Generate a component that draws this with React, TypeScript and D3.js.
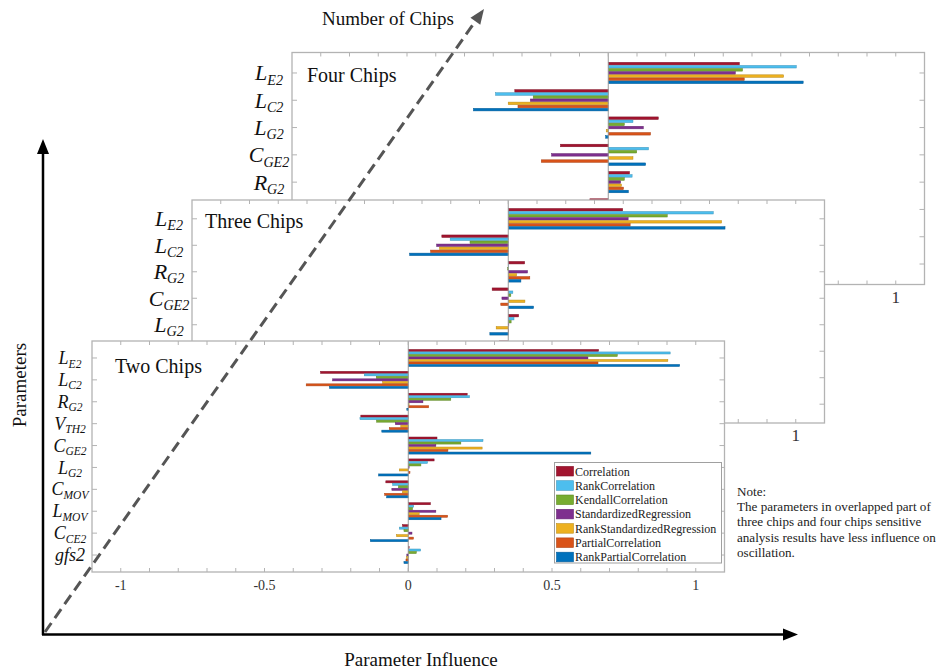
import React from 'react';
import * as d3 from 'd3';

const methods = [
  'Correlation',
  'RankCorrelation',
  'KendallCorrelation',
  'StandardizedRegression',
  'RankStandardizedRegression',
  'PartialCorrelation',
  'RankPartialCorrelation',
];
const methodColors = ['#A2142F', '#4DBEEE', '#77AC30', '#7E2F8E', '#EDB120', '#D95319', '#0072BD'];

// rows = parameters, columns = methods (same order as above)
const fourChipsParams = ['L_E2', 'L_C2', 'L_G2', 'C_GE2', 'R_G2', 'C_MOV', 'V_TH2', 'L_MOV'];
const fourChipsValues = [
  [0.456, 0.654, 0.467, 0.442, 0.61, 0.473, 0.678],
  [-0.325, -0.392, -0.261, -0.271, -0.348, -0.314, -0.469],
  [0.174, 0.086, 0.056, 0.122, -0.007, 0.147, -0.009],
  [-0.166, 0.14, 0.099, -0.197, 0.086, -0.233, 0.13],
  [0.074, 0.083, 0.056, 0.043, 0.046, 0.053, 0.07],
  [-0.064, -0.04, -0.03, -0.05, -0.02, -0.06, -0.05],
  [-0.03, -0.02, -0.01, -0.02, 0.01, -0.03, 0.02],
  [0.02, 0.01, 0.01, 0.03, 0.02, 0.03, 0.02],
];

const threeChipsParams = ['L_E2', 'L_C2', 'R_G2', 'C_GE2', 'L_G2', 'C_MOV', 'V_TH2', 'L_MOV'];
const threeChipsValues = [
  [0.398, 0.713, 0.553, 0.417, 0.742, 0.424, 0.754],
  [-0.231, -0.202, -0.133, -0.249, -0.239, -0.27, -0.343],
  [0.057, 0.001, -0.002, 0.067, 0.029, 0.075, 0.044],
  [-0.056, 0.016, 0.009, -0.022, 0.058, -0.026, 0.088],
  [0.036, 0.02, 0.01, 0.002, -0.042, 0.001, -0.064],
  [-0.03, -0.02, -0.01, -0.02, -0.01, -0.03, -0.02],
  [-0.04, -0.03, -0.02, -0.01, -0.01, -0.02, -0.03],
  [0.02, 0.01, 0.01, 0.02, 0.01, 0.03, 0.02],
];

const twoChipsParams = ['L_E2', 'L_C2', 'R_G2', 'V_TH2', 'C_GE2', 'L_G2', 'C_MOV', 'L_MOV', 'C_CE2', 'gfs2'];
const twoChipsValues = [
  [0.662, 0.911, 0.727, 0.625, 0.903, 0.66, 0.944],
  [-0.305, -0.153, -0.111, -0.263, -0.089, -0.355, -0.274],
  [0.205, 0.213, 0.148, 0.051, 0.003, 0.071, -0.005],
  [-0.165, -0.168, -0.11, -0.045, -0.026, -0.066, -0.092],
  [0.1, 0.26, 0.183, 0.096, 0.257, 0.138, 0.635],
  [0.09, 0.067, 0.044, 0.003, -0.031, 0.006, -0.103],
  [-0.078, -0.054, -0.034, -0.057, -0.02, -0.082, -0.075],
  [0.077, 0.019, 0.015, 0.096, 0.038, 0.137, 0.114],
  [-0.02, -0.031, -0.015, 0.013, -0.041, 0.018, -0.132],
  [0.003, 0.043, 0.028, -0.005, -0.006, -0.008, -0.015],
];

const xTickLabels = [-1, -0.5, 0, 0.5, 1];
const noteLines = [
  'Note:',
  'The parameters in overlapped part of',
  'three chips and four chips sensitive',
  'analysis results have less influence on',
  'oscillation.',
];

const FONT = '"Liberation Serif", "Times New Roman", serif';
const FRAME = '#b3b3b3';
const PANEL_W = 632.5;

type PanelSpec = {
  title: string;
  params: string[];
  values: number[][];
  left: number;
  top: number;
  height: number;
  pad: number;
  titleX: number;
  titleY: number;
  labelDx: number;
  labelFont: number;
  tickFont: number;
  shownLabels: number; // rows whose name is not hidden behind the panel in front
  shownTicks: number[];
  legend?: boolean;
};

const panels: PanelSpec[] = [
  { title: 'Four Chips', params: fourChipsParams, values: fourChipsValues, left: 292, top: 52.5, height: 232, pad: 0.75,
    titleX: 307, titleY: 82, labelDx: 23, labelFont: 22, tickFont: 17, shownLabels: 5, shownTicks: [1] },
  { title: 'Three Chips', params: threeChipsParams, values: threeChipsValues, left: 192, top: 200, height: 223, pad: 0.71,
    titleX: 205, titleY: 228, labelDx: 23, labelFont: 22, tickFont: 17, shownLabels: 5, shownTicks: [1] },
  { title: 'Two Chips', params: twoChipsParams, values: twoChipsValues, left: 92, top: 341, height: 231, pad: 0.775,
    titleX: 115, titleY: 373, labelDx: 22, labelFont: 18, tickFont: 14, shownLabels: 10, shownTicks: xTickLabels, legend: true },
];

const ParamLabel = ({ name, x, y, size }: { name: string; x: number; y: number; size: number }) => {
  const [main, sub] = name.split('_');
  return (
    <text x={x} y={y} textAnchor="middle" fontFamily={FONT} fontStyle="italic" fontSize={size} fill="#111">
      {main}
      {sub && (
        <tspan fontSize={size * 0.64} dy={size * 0.19}>
          {sub}
        </tspan>
      )}
    </text>
  );
};

const Legend = ({ x0, y0 }: { x0: number; y0: number }) => {
  const rowH = 14.3;
  return (
    <g>
      <rect x={x0} y={y0} width={167} height={100.5} fill="#fff" stroke="#a0a0a0" strokeWidth={1} />
      {methods.map((m, i) => {
        const cy = y0 + 8.7 + i * rowH;
        return (
          <g key={m}>
            <rect x={x0 + 2} y={cy - 4.8} width={17} height={9.6} fill={methodColors[i]}
              stroke={d3.color(methodColors[i])!.darker(0.6).toString()} strokeWidth={0.6} />
            <text x={x0 + 20.5} y={cy + 4.3} fontFamily={FONT} fontSize={12} fill="#222">{m}</text>
          </g>
        );
      })}
    </g>
  );
};

const Panel = ({ p }: { p: PanelSpec }) => {
  const right = p.left + PANEL_W;
  const bottom = p.top + p.height;
  const n = p.params.length;
  const x = d3.scaleLinear().domain([-1.1, 1.1]).range([p.left, right]);
  const y = d3.scaleLinear().domain([1 - p.pad, n + p.pad]).range([p.top, bottom]);
  const unit = y(2) - y(1);
  const pitch = (unit * 0.8) / methods.length;
  const barH = pitch * 0.82;
  const minorTicks = d3.range(-10, 11).map((i) => i / 10);
  const tickLen = 4;

  return (
    <g>
      <rect x={p.left} y={p.top} width={PANEL_W} height={p.height} fill="#fff" />
      {p.values.map((row, r) =>
        row.map((v, m) => {
          const cy = y(r + 1) + (m - (methods.length - 1) / 2) * pitch;
          const x0 = x(Math.min(0, v));
          const w = Math.abs(x(v) - x(0));
          return (
            <rect key={`${r}-${m}`} x={x0} y={cy - barH / 2} width={w} height={barH}
              fill={methodColors[m]} stroke={d3.color(methodColors[m])!.darker(0.7).toString()} strokeWidth={0.5} />
          );
        })
      )}
      <line x1={x(0)} x2={x(0)} y1={p.top} y2={bottom} stroke="#999" strokeWidth={1} />
      <rect x={p.left} y={p.top} width={PANEL_W} height={p.height} fill="none" stroke={FRAME} strokeWidth={1.3} />
      {minorTicks.map((t) => (
        <g key={t} stroke={FRAME} strokeWidth={1}>
          <line x1={x(t)} x2={x(t)} y1={bottom} y2={bottom - tickLen} />
          <line x1={x(t)} x2={x(t)} y1={p.top} y2={p.top + tickLen} />
        </g>
      ))}
      {p.params.map((_, r) => (
        <g key={r} stroke={FRAME} strokeWidth={1}>
          <line x1={p.left} x2={p.left + tickLen + 1} y1={y(r + 1)} y2={y(r + 1)} />
          <line x1={right} x2={right - tickLen - 1} y1={y(r + 1)} y2={y(r + 1)} />
        </g>
      ))}
      {p.shownTicks.map((t) => (
        <text key={t} x={x(t)} y={bottom + 18} textAnchor="middle" fontFamily={FONT} fontSize={p.tickFont} fill="#333">
          {t}
        </text>
      ))}
      {p.params.slice(0, p.shownLabels).map((name, r) => (
        <ParamLabel key={name} name={name} x={p.left - p.labelDx} y={y(r + 1) + p.labelFont * 0.34} size={p.labelFont} />
      ))}
      <text x={p.titleX} y={p.titleY} fontFamily={FONT} fontSize={20} fill="#111">{p.title}</text>
      {p.legend && <Legend x0={554.5} y0={462.5} />}
    </g>
  );
};

const App = () => {
  const d0 = [45, 632];
  const d1 = [484, 9];
  const ang = Math.atan2(d1[1] - d0[1], d1[0] - d0[0]);
  const headL = 15;
  const headW = 6;
  const bx = d1[0] - headL * Math.cos(ang);
  const by = d1[1] - headL * Math.sin(ang);
  const nx = -Math.sin(ang) * headW;
  const ny = Math.cos(ang) * headW;

  return (
    <svg width={942} height={670} style={{ position: 'absolute', left: 0, top: 0, background: '#fff' }}>
      <rect width={942} height={670} fill="#fff" />
      {panels.map((p) => (
        <Panel key={p.title} p={p} />
      ))}

      {noteLines.map((l, i) => (
        <text key={i} x={737} y={495.5 + i * 15.4} fontFamily={FONT} fontSize={13.1} fill="#222">{l}</text>
      ))}

      <line x1={43} y1={635} x2={43} y2={152} stroke="#000" strokeWidth={2.5} />
      <polygon points="43,139 37,154 49,154" fill="#000" />
      <line x1={42} y1={634.5} x2={785} y2={634.5} stroke="#000" strokeWidth={2.5} />
      <polygon points="798,634.5 783,628.5 783,640.5" fill="#000" />

      <line x1={d0[0]} y1={d0[1]} x2={bx} y2={by} stroke="#555" strokeWidth={3} strokeDasharray="11 6" />
      <polygon points={`${d1[0]},${d1[1]} ${bx + nx},${by + ny} ${bx - nx},${by - ny}`} fill="#555" />

      <text x={388} y={25} textAnchor="middle" fontFamily={FONT} fontSize={19} fill="#111">Number of Chips</text>
      <text x={421} y={666} textAnchor="middle" fontFamily={FONT} fontSize={19} fill="#111">Parameter Influence</text>
      <text transform="translate(26,385) rotate(-90)" textAnchor="middle" fontFamily={FONT} fontSize={19} fill="#111">Parameters</text>
    </svg>
  );
};

export default App;
